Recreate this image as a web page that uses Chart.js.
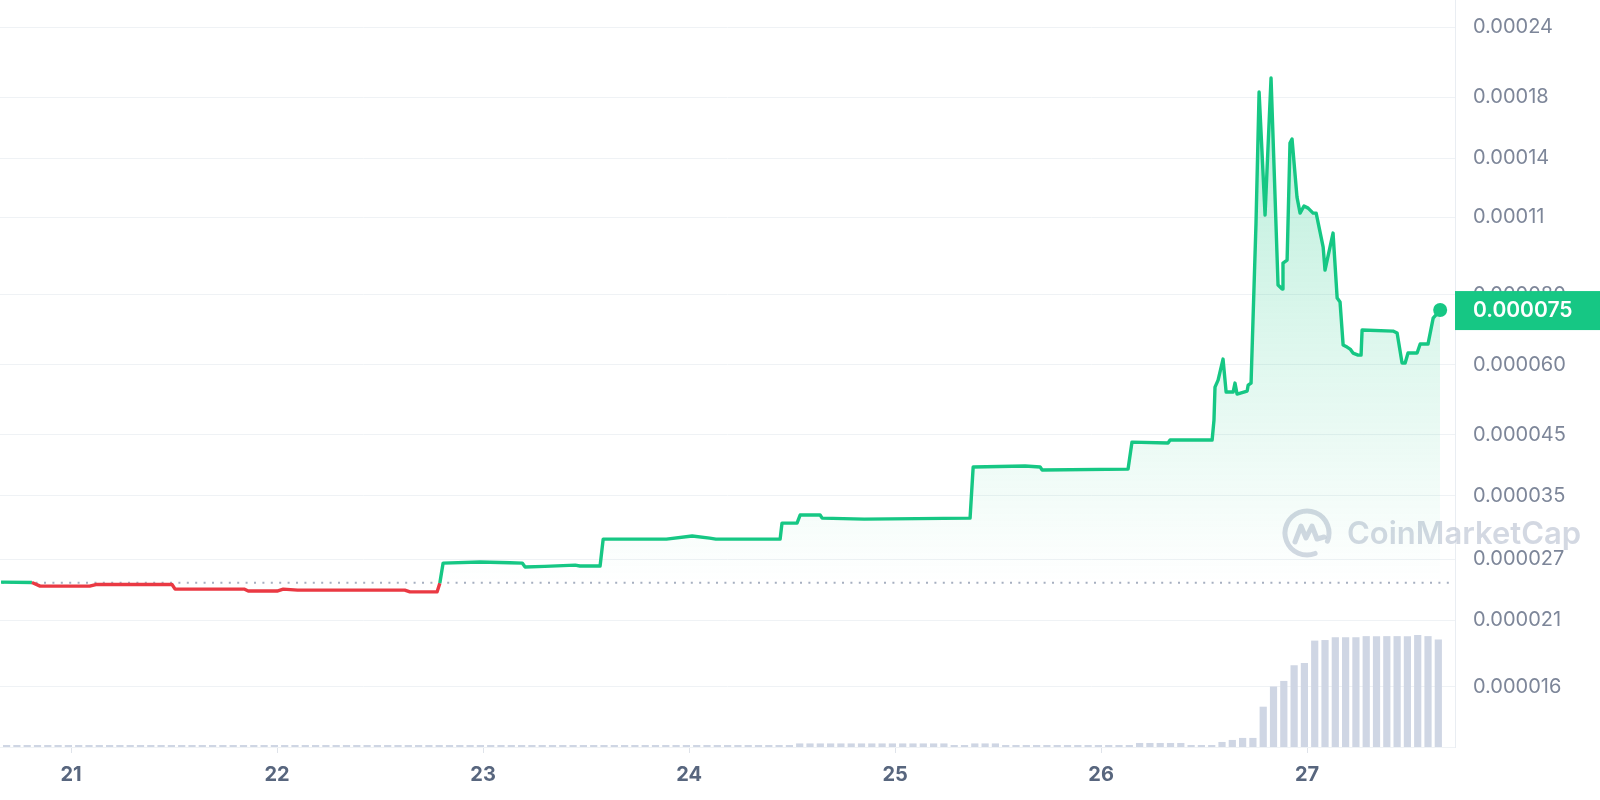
<!DOCTYPE html>
<html>
<head>
<meta charset="utf-8">
<script src="https://cdn.jsdelivr.net/npm/chart.js@4.4.0/dist/chart.umd.min.js"></script>
<style>
  html, body { margin: 0; padding: 0; background: #fff; }
  #wrap { width: 1600px; height: 800px; }
</style>
</head>
<body>
<div id="wrap"><canvas id="priceChart" width="1600" height="800"></canvas></div>
<script>
const green = "#16c784";
const red = "#ea3943";
const fontFamily = "Inter, 'Noto Sans', sans-serif";

// price (day of month, USD)
const priceDays = [20.66, 20.81, 20.85, 21.09, 21.12, 21.49, 21.505, 21.84, 21.86, 22.00,
  22.03, 22.10, 22.62, 22.645, 22.777, 22.79, 22.806, 22.985, 23.13, 23.19,
  23.204, 23.30, 23.447, 23.47, 23.568, 23.583, 23.89, 24.015, 24.10, 24.13,
  24.442, 24.451, 24.524, 24.539, 24.636, 24.646, 24.85, 25.364, 25.379, 25.631,
  25.704, 25.714, 26.131, 26.150, 26.325, 26.335, 26.539, 26.548, 26.553, 26.568,
  26.592, 26.607, 26.641, 26.650, 26.660, 26.709, 26.714, 26.728, 26.752, 26.767,
  26.796, 26.825, 26.859, 26.879, 26.883, 26.903, 26.917, 26.927, 26.951, 26.966,
  26.985, 27.005, 27.029, 27.044, 27.078, 27.087, 27.126, 27.146, 27.160, 27.175,
  27.194, 27.209, 27.223, 27.248, 27.262, 27.267, 27.417, 27.437, 27.461, 27.476,
  27.490, 27.534, 27.549, 27.587, 27.612, 27.646];
const priceValues = [0.00002456, 0.00002452, 0.00002416, 0.00002416, 0.00002432, 0.00002432, 0.00002387, 0.00002387, 0.00002368, 0.00002368,
  0.00002387, 0.00002377, 0.00002377, 0.00002360, 0.00002360, 0.00002446, 0.00002656, 0.00002667, 0.00002660, 0.00002656,
  0.00002613, 0.00002620, 0.00002634, 0.00002624, 0.00002624, 0.00002931, 0.00002931, 0.00002968, 0.00002943, 0.00002931,
  0.00002931, 0.00003130, 0.00003130, 0.00003235, 0.00003235, 0.00003195, 0.00003182, 0.00003195, 0.00003940, 0.00003956,
  0.00003940, 0.00003892, 0.00003907, 0.00004365, 0.00004348, 0.00004402, 0.00004402, 0.00004779, 0.00005472, 0.00005631,
  0.00006139, 0.00005361, 0.00005361, 0.00005562, 0.00005317, 0.00005383, 0.00005517, 0.00005562, 0.0001073, 0.0001838,
  0.0001109, 0.0001947, 0.00008319, 0.00008183, 0.00009106, 0.00009218, 0.0001490, 0.0001515, 0.0001194, 0.0001118,
  0.0001151, 0.0001141, 0.0001118, 0.0001118, 0.00009724, 0.00008848, 0.0001030, 0.00007886, 0.00007757, 0.00006502,
  0.00006448, 0.00006396, 0.00006292, 0.00006240, 0.00006240, 0.00006915, 0.00006886, 0.00006830, 0.00006039, 0.00006039,
  0.00006292, 0.00006292, 0.00006529, 0.00006529, 0.00007264, 0.00007507];
const openPrice = 0.0000245;

// volume bars (relative), one bar every 0.05 day
const volStart = 20.687;
const volStep = 0.05;
const volumes = [
  1.8, 1.8, 1.8, 1.8, 1.8, 1.8, 1.8, 1.8, 1.8, 1.8, 1.8, 1.8, 1.8, 1.8, 1.8, 1.8, 1.8, 1.8, 1.8, 1.8,
  1.8, 1.8, 1.8, 1.8, 1.8, 1.8, 1.8, 1.8, 1.8, 1.8, 1.8, 1.8, 1.8, 1.8, 1.8, 1.8, 1.8, 1.8, 1.8, 1.8,
  1.8, 1.8, 1.8, 1.8, 1.8, 1.8, 1.8, 1.8, 1.8, 1.8, 1.8, 1.8, 1.8, 1.8, 1.8, 1.8, 1.8, 1.8, 1.8, 1.8,
  1.8, 1.8, 1.8, 1.8, 1.8, 1.8, 1.8, 1.8, 1.8, 1.8, 1.8, 1.8, 1.8, 1.8, 1.8, 1.8, 1.8,
  3.2, 3.2, 3.2, 3.2, 3.2, 3.2, 3.2, 3.2, 3.2, 3.2, 3.2, 3.2, 3.2, 3.2, 3.2,
  1.8, 1.8, 3.2, 3.2, 3.2,
  1.8, 1.8, 1.8, 1.8, 1.8, 1.8, 1.8, 1.8, 1.8, 1.8, 1.8, 1.8, 1.8,
  3.6, 3.6, 3.6, 3.6, 3.6, 1.8, 1.8, 1.8,
  4.5, 6.3, 8.1, 8.1, 36, 54, 59, 73, 75, 95, 95.5, 98, 98, 98, 99, 99, 99, 99, 99, 100, 99, 96];

// axes
const dayTicks = [21, 22, 23, 24, 25, 26, 27];
const xMin = 20.655;
const xMax = 27.718;
const yTickValues = [0.000016, 0.000021, 0.000027, 0.000035, 0.000045, 0.000060, 0.000080, 0.00011, 0.00014, 0.00018, 0.00024];
const yTickLabels = ["0.000016", "0.000021", "0.000027", "0.000035", "0.000045", "0.000060", "0.000080", "0.00011", "0.00014", "0.00018", "0.00024"];
const yMin = 0.00001248;
const yMax = 0.0002682;

const pricePoints = priceDays.map((d, i) => ({ x: d, y: priceValues[i] }));
const volumePoints = volumes.map((v, i) => ({ x: volStart + i * volStep, y: v }));

function fillGradient(context) {
    const chart = context.chart;
    const area = chart.chartArea;
    if (!area || !chart.scales.y) return "rgba(22,199,132,0.12)";
    const yBase = chart.scales.y.getPixelForValue(openPrice);
    const g = chart.ctx.createLinearGradient(0, area.top + 60, 0, yBase);
    g.addColorStop(0, "rgba(22,199,132,0.32)");
    g.addColorStop(0.55, "rgba(22,199,132,0.14)");
    g.addColorStop(1, "rgba(22,199,132,0.0)");
    return g;
}

const watermark = {
    id: 'watermark',
    beforeDatasetsDraw(chart) {
        const ctx = chart.ctx;
        ctx.save();
        ctx.strokeStyle = "rgba(175,184,202,0.55)";
        ctx.fillStyle = "rgba(175,184,202,0.55)";
        ctx.lineWidth = 5;
        ctx.lineCap = "round";
        ctx.lineJoin = "round";
        const cx = 1307, cy = 533;
        ctx.beginPath();
        ctx.arc(cx, cy, 22, 0.38 * Math.PI, 2.12 * Math.PI);
        ctx.stroke();
        ctx.beginPath();
        ctx.moveTo(cx - 12, cy + 9);
        ctx.lineTo(cx - 6, cy - 7);
        ctx.lineTo(cx - 1, cy + 5);
        ctx.lineTo(cx + 5, cy - 7);
        ctx.lineTo(cx + 10, cy + 6);
        ctx.lineTo(cx + 17, cy + 4);
        ctx.stroke();
        ctx.font = "600 31px " + fontFamily;
        ctx.textBaseline = "alphabetic";
        ctx.fillText("CoinMarketCap", 1347, 544);
        ctx.restore();

        // dotted open-price line
        const y = chart.scales.y.getPixelForValue(openPrice);
        ctx.save();
        ctx.beginPath();
        ctx.setLineDash([2, 6.4]);
        ctx.lineWidth = 2;
        ctx.strokeStyle = "#a6afc0";
        ctx.moveTo(chart.chartArea.left + 2, y);
        ctx.lineTo(chart.chartArea.right - 6, y);
        ctx.stroke();
        ctx.restore();
    }
};

const priceTag = {
    id: 'priceTag',
    afterDraw(chart) {
        const ctx = chart.ctx;
        const last = priceValues[priceValues.length - 1];
        const y = chart.scales.y.getPixelForValue(last);
        const left = chart.chartArea.right;
        ctx.save();
        ctx.fillStyle = green;
        ctx.fillRect(left, y - 19, chart.width - left, 39);
        ctx.fillStyle = "#fff";
        ctx.font = "600 21px " + fontFamily;
        ctx.textBaseline = "middle";
        ctx.fillText(last.toFixed(6), left + 18, y + 1);
        ctx.restore();
    }
};

new Chart("priceChart", {
    data: {
        datasets: [{
            type: "line",
            data: pricePoints,
            yAxisID: "y",
            order: 0,
            borderColor: green,
            borderWidth: 3.4,
            borderJoinStyle: "round",
            tension: 0,
            backgroundColor: fillGradient,
            fill: { target: { value: openPrice }, below: "rgba(0,0,0,0)" },
            pointRadius: ctx => ctx.dataIndex === priceValues.length - 1 ? 7 : 0,
            pointBackgroundColor: green,
            pointBorderWidth: 0,
            segment: {
                borderColor: ctx => ctx.p1.parsed.y < openPrice ? red : green,
            },
        }, {
            type: "bar",
            data: volumePoints,
            yAxisID: "yv",
            order: 1,
            backgroundColor: "#cfd6e4",
            barPercentage: 0.7,
            categoryPercentage: 1,
        }],
    },
    options: {
        responsive: false,
        animation: false,
        layout: { padding: 0, autoPadding: false },
        plugins: {
            legend: { display: false },
            tooltip: { enabled: false },
        },
        scales: {
            x: {
                type: "linear",
                min: xMin,
                max: xMax,
                bounds: "data",
                offset: false,
                afterBuildTicks: s => { s.ticks = dayTicks.map(v => ({ value: v })); },
                afterFit: s => { s.height = 53; s.paddingLeft = 0; s.paddingRight = 0; },
                ticks: {
                    color: "#58667e",
                    padding: 10,
                    font: { family: fontFamily, size: 20, weight: "bold" },
                },
                grid: {
                    offset: false,
                    drawOnChartArea: false,
                    tickLength: 6,
                    color: "#dfe3ea",
                },
                border: { display: true, color: "#eff2f5" },
            },
            y: {
                type: "logarithmic",
                position: "right",
                min: yMin,
                max: yMax,
                bounds: "data",
                afterBuildTicks: s => { s.ticks = yTickValues.map(v => ({ value: v })); },
                afterFit: s => { s.width = 145; s.paddingTop = 0; s.paddingBottom = 0; },
                ticks: {
                    color: "#7d8699",
                    padding: 18,
                    autoSkip: false,
                    font: { family: fontFamily, size: 20 },
                    callback: (v, i) => yTickLabels[i],
                },
                grid: { color: "#eff2f5", drawTicks: false },
                border: { display: true, color: "#e9edf2" },
            },
            yv: {
                type: "linear",
                display: false,
                min: 0,
                max: 667,
            },
        },
    },
    plugins: [watermark, priceTag]
});
</script>
</body>
</html>
